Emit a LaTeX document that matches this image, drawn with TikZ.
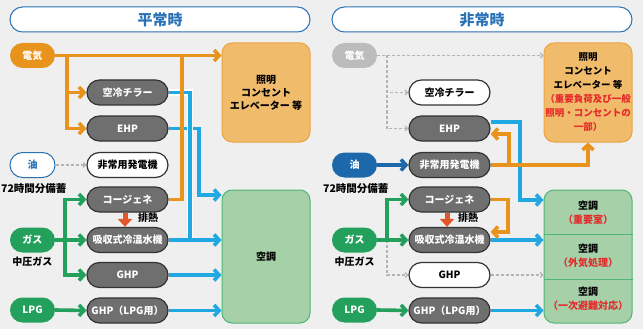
\documentclass[tikz,border=0pt]{standalone}
\usepackage{fontspec}
\setmainfont{Noto Sans CJK JP}
\usetikzlibrary{arrows.meta}
\definecolor{bgc}{HTML}{EFEFEF}
\definecolor{devgray}{HTML}{6F6F6F}
\definecolor{devline}{HTML}{333333}
\definecolor{orL}{HTML}{E8931C}
\definecolor{blL}{HTML}{20A8E0}
\definecolor{grL}{HTML}{22A05C}
\definecolor{lightfill}{HTML}{F1BB6C}
\definecolor{lightdraw}{HTML}{EBA440}
\definecolor{acfill}{HTML}{A5D0A8}
\definecolor{acdraw}{HTML}{4FB476}
\definecolor{titleblue}{HTML}{2A72B5}
\definecolor{oilblue}{HTML}{1C68AB}
\definecolor{pillgray}{HTML}{BCBCBC}
\definecolor{dashgray}{HTML}{B4B4B4}
\definecolor{redtxt}{HTML}{E52A2A}
\definecolor{heatc}{HTML}{E2562C}
\begin{document}
\begin{tikzpicture}[x=1pt,y=-1pt,
  titlebox/.style={draw=titleblue, fill=white, line width=1pt, rounded corners=12.5pt,
    minimum width=300pt, minimum height=25pt, inner sep=0pt, text=titleblue,
    font=\bfseries\fontsize{15}{18}\selectfont},
  pill/.style={rounded corners=12.5pt, minimum width=45pt, minimum height=25pt, inner sep=0pt,
    font=\bfseries\fontsize{10}{12}\selectfont},
  dev/.style={rounded corners=12.5pt, minimum width=81pt, minimum height=25pt, inner sep=0pt,
    draw=devline, line width=1.2pt, font=\bfseries\fontsize{10}{12}\selectfont},
  devg/.style={dev, fill=devgray, text=white},
  devw/.style={dev, fill=white, text=black},
  lightbox/.style={draw=lightdraw, fill=lightfill, line width=1pt, rounded corners=10pt,
    minimum width=88pt, minimum height=99pt, inner sep=0pt, align=center},
  acbox/.style={draw=acdraw, fill=acfill, line width=1pt, rounded corners=10pt,
    minimum width=88pt, minimum height=133pt, inner sep=0pt, align=center},
  plain/.style={inner sep=0pt, font=\bfseries\fontsize{10}{12}\selectfont},
  fat/.style={line width=3.6pt},
  tip/.style={-{Straight Barb[length=5pt,width=11pt]}},
  oline/.style={fat, draw=orL},
  bline/.style={fat, draw=blL},
  gline/.style={fat, draw=grL},
  kline/.style={fat, draw=oilblue},
  dline/.style={draw=dashgray, line width=1.2pt, dash pattern=on 3pt off 2pt,
    -{Straight Barb[length=2.5pt,width=5pt]}},
  dplain/.style={draw=dashgray, line width=1.2pt, dash pattern=on 3pt off 2pt},
  heat/.style={draw=heatc, line width=5pt, -{Triangle[length=8pt,width=14pt]}},
  casing/.style={preaction={draw=white, line width=6.5pt}}
]
\fill[bgc] (0,0) rectangle (643,329);
\useasboundingbox (0,0) rectangle (643,329);

% ================= LEFT PANEL =================
\node[titlebox] (T1) at (160,19.5) {平常時};
\node[pill, fill=orL, text=white] (EL1) at (32.5,55.5) {電気};
\node[pill, draw=titleblue, line width=1pt, fill=white, text=titleblue] (OIL1) at (32.5,165) {油};
\node[pill, fill=grL, text=white] (GAS1) at (32.5,240) {ガス};
\node[pill, fill=grL, text=white] (LPG1) at (32.5,310) {LPG};
\node[plain, anchor=west, font=\bfseries\fontsize{10.5}{12}\selectfont] (RES1) at (1,189) {72時間分備蓄};
\node[plain] (MP1) at (32.5,262) {中圧ガス};

\node[devg] (CH1) at (127.5,92.5) {空冷チラー};
\node[devg] (EHP1) at (127.5,128.5) {EHP};
\node[devw] (GEN1) at (127.5,165) {非常用発電機};
\node[devg] (COG1) at (127.5,199.5) {コージェネ};
\node[devg] (ABS1) at (127.5,240) {吸収式冷温水機};
\node[devg] (GHP1) at (127.5,275) {GHP};
\node[devg] (LG1) at (127.5,310.5) {GHP（LPG用）};

\node[lightbox, font=\bfseries\fontsize{10}{13}\selectfont] (L1) at (266,92.5) {照明\\コンセント\\エレベーター 等};
\node[acbox, font=\bfseries\fontsize{10}{13}\selectfont] (AC1) at (266,256.5) {空調};

\coordinate (oj1) at (67,55.5);
\coordinate (oj2) at (182,55.5);
\coordinate (bj1) at (190,0);
\coordinate (bj2) at (199,195);

% blue
\draw[bline, tip] (EHP1.east) -| (bj2) -- (AC1.west |- bj2);
\draw[bline, casing] (CH1.east) -| (bj1 |- ABS1.east);
\draw[bline, tip] (ABS1.east) -- (AC1.west |- ABS1.east);
\draw[bline, tip] (GHP1.east) -- (AC1.west |- GHP1.east);
\draw[bline, tip] (LG1.east) -- (AC1.west |- LG1.east);
% orange
\draw[oline, tip] (EL1.east) -- (L1.west |- EL1.east);
\draw[oline, tip] (oj1) |- (CH1.west);
\draw[oline, tip] (oj1) |- (EHP1.west);
\draw[oline] (COG1.east) -| (oj2);
% green
\coordinate (gj1) at (65,240);
\draw[gline, tip] (GAS1.east) -- (ABS1.west);
\draw[gline, tip] (gj1) |- (COG1.west);
\draw[gline, tip] (gj1) |- (GHP1.west);
\draw[gline, tip] (LPG1.east) -- (LG1.west);
% dashed
\draw[dline] (OIL1.east) -- (GEN1.west);
% heat
\draw[heat] ([xshift=-2.5pt]COG1.south) -- ([xshift=-2.5pt]ABS1.north);
\node[plain] (HT1) at (148,218) {排熱};

% ================= RIGHT PANEL =================
\node[titlebox] (T2) at (482,19.5) {非常時};
\node[pill, fill=pillgray, text=white] (EL2) at (354.5,55.5) {電気};
\node[pill, fill=oilblue, text=white] (OIL2) at (354.5,165) {油};
\node[pill, fill=grL, text=white] (GAS2) at (354.5,240) {ガス};
\node[pill, fill=grL, text=white] (LPG2) at (354.5,310) {LPG};
\node[plain, anchor=west, font=\bfseries\fontsize{10.5}{12}\selectfont] (RES2) at (323,189) {72時間分備蓄};
\node[plain] (MP2) at (354.5,262) {中圧ガス};

\node[devw] (CH2) at (449.5,92.5) {空冷チラー};
\node[devg] (EHP2) at (449.5,128.5) {EHP};
\node[devg] (GEN2) at (449.5,165) {非常用発電機};
\node[devg] (COG2) at (449.5,199.5) {コージェネ};
\node[devg] (ABS2) at (449.5,240) {吸収式冷温水機};
\node[devw] (GHP2) at (449.5,275) {GHP};
\node[devg] (LG2) at (449.5,310.5) {GHP（LPG用）};

\node[lightbox, font=\bfseries\fontsize{9.5}{14}\selectfont] (L2) at (588,92.5)
  {照明\\コンセント\\エレベーター 等\\\textcolor{redtxt}{（重要負荷及び一般}\\\textcolor{redtxt}{照明・コンセントの}\\\textcolor{redtxt}{一部）}};
\node[acbox] (AC2) at (588,256.5) {};
\coordinate (d1) at (0,234);
\coordinate (d2) at (0,279);
\draw[draw=acdraw, line width=1pt] (AC2.west |- d1) -- (AC2.east |- d1);
\draw[draw=acdraw, line width=1pt] (AC2.west |- d2) -- (AC2.east |- d2);
\node[plain, align=center, font=\bfseries\fontsize{10}{14}\selectfont] (ACa) at (588,213) {空調\\\textcolor{redtxt}{（重要室）}};
\node[plain, align=center, font=\bfseries\fontsize{10}{14}\selectfont] (ACb) at (588,256) {空調\\\textcolor{redtxt}{（外気処理）}};
\node[plain, align=center, font=\bfseries\fontsize{10}{14}\selectfont] (ACc) at (588,299) {空調\\\textcolor{redtxt}{（一次避難対応）}};

\coordinate (rj1) at (387,55.5);
\coordinate (ry122) at (0,122);
\coordinate (ry134) at (0,134);
\coordinate (rb) at (520,200);
\coordinate (ro1) at (509,165);
\coordinate (ro2) at (508,232);

% blue
\draw[bline, tip] (EHP2.east |- ry122) -| (rb) -- (AC2.west |- rb);
\draw[bline, tip] (ABS2.east) -- (AC2.west |- ABS2.east);
\draw[bline, tip] (LG2.east) -- (AC2.west |- LG2.east);
% orange
\draw[oline, tip] (GEN2.east) -| (L2.south);
\draw[oline, tip] (ro1) |- (EHP2.east |- ry134);
\draw[oline, tip] (COG2.east) -| (ro2) -- (ABS2.east |- ro2);
% dashed
\draw[dline] (EL2.east) -- (L2.west |- EL2.east);
\draw[dline] (rj1) |- (CH2.west);
\draw[dline] (rj1) |- (EHP2.west);
\draw[dline] (GHP2.east) -- (AC2.west |- GHP2.east);
% green
\coordinate (gj2) at (387,240);
\draw[dline] (gj2) |- (GHP2.west);
\draw[gline, tip] (GAS2.east) -- (ABS2.west);
\draw[gline, tip] (gj2) |- (COG2.west);
\draw[gline, tip] (LPG2.east) -- (LG2.west);
% oil
\draw[kline, tip] (OIL2.east) -- (GEN2.west);
% heat
\draw[heat] ([xshift=-2.5pt]COG2.south) -- ([xshift=-2.5pt]ABS2.north);
\node[plain] (HT2) at (468,218) {排熱};
\end{tikzpicture}
\end{document}
